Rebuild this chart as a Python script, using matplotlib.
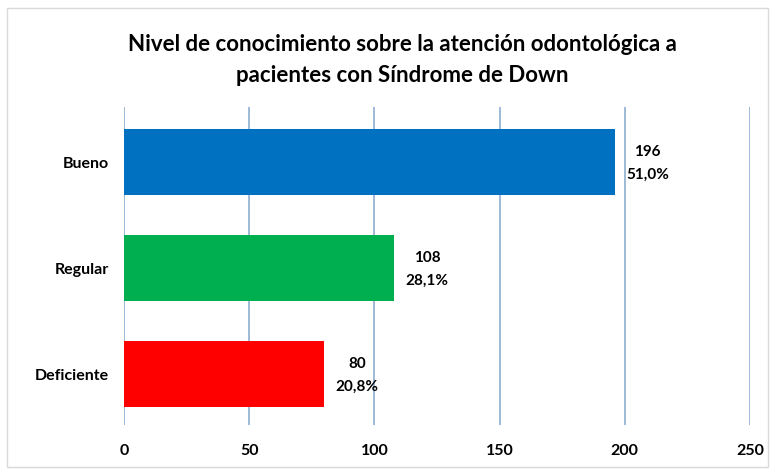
import matplotlib.pyplot as plt
from matplotlib.patches import Rectangle

categories = ['Deficiente', 'Regular', 'Bueno']
counts = [80, 108, 196]
percents = ['20,8%', '28,1%', '51,0%']
colors = ['#FF0000', '#00B050', '#0070C0']
xticks = [0, 50, 100, 150, 200, 250]

plt.rcParams['font.family'] = ['Lato', 'DejaVu Sans']

fig = plt.figure(figsize=(7.73, 4.72), dpi=100)
fig.patches.append(Rectangle((7 / 773, 0.01), 0.985, 1 - 8 / 472 - 0.01,
                             transform=fig.transFigure, fill=False,
                             edgecolor='#d9d9d9', linewidth=1))

ax = fig.add_axes([0.1604, 0.0996, 0.8098, 0.6737])
ypos = range(len(categories))
ax.barh(ypos, counts, height=0.62, color=colors, zorder=3)

for y, c, p in zip(ypos, counts, percents):
    ax.annotate(f'{c}\n{p}', (c, y), xytext=(8, -1), textcoords='offset points',
                ha='left', va='center', multialignment='center',
                fontsize=11, fontweight='bold', linespacing=1.75)

ax.set_xlim(0, 250)
ax.set_ylim(-0.48, 2.52)
ax.set_xticks(xticks)
ax.set_yticks(list(ypos))
ax.set_yticklabels(categories, fontsize=11.5, fontweight='bold')
for lbl in ax.get_xticklabels():
    lbl.set_fontweight('bold')
    lbl.set_fontsize(11.5)
ax.tick_params(length=0, pad=14)
ax.tick_params(axis='y', pad=11)
ax.grid(axis='x', color='#8eaed0', linewidth=1.2, zorder=0)
for s in ax.spines.values():
    s.set_visible(False)

fig.text(0.52, 0.905, 'Nivel de conocimiento sobre la atención odontológica a',
         ha='center', va='center', fontsize=16, fontweight='bold')
fig.text(0.52, 0.840, 'pacientes con Síndrome de Down',
         ha='center', va='center', fontsize=16, fontweight='bold')

fig.savefig('out.png', dpi=100)
